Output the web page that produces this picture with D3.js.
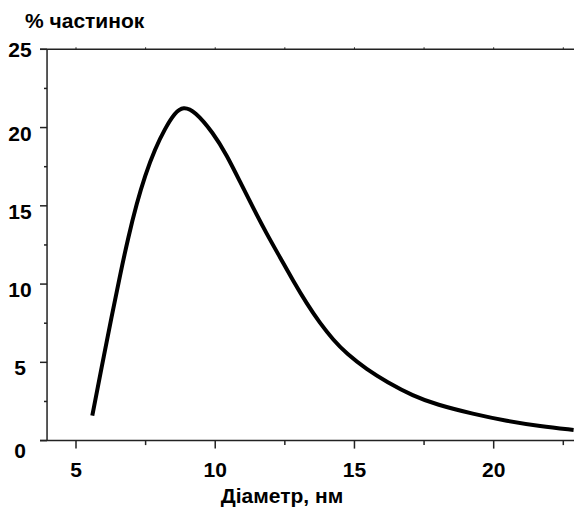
<!DOCTYPE html>
<html>
<head>
<meta charset="utf-8">
<script src="https://cdnjs.cloudflare.com/ajax/libs/d3/7.8.5/d3.min.js"></script>
<style>
  body { margin: 0; background: #fff; }
  text { font-family: "Liberation Sans", Arial, sans-serif; font-weight: bold; fill: #000; }
</style>
</head>
<body>
<div id="chart"></div>
<script>
// diameter (nm) and share of particles (%)
var diameters = [5.585, 5.92, 6.28, 6.58, 6.88, 7.18, 7.48, 7.84, 8.20, 8.55, 8.85, 9.27,
    9.93, 10.41, 10.89, 11.37, 11.85, 12.33, 12.80, 13.28, 13.76, 14.24, 14.72, 15.44,
    16.16, 17.11, 17.95, 19.27, 20.47, 21.67, 22.87]
var percents = [1.6, 4.68, 7.92, 10.56, 13.02, 15.15, 16.95, 18.65, 19.95, 20.95, 21.35, 21.05,
    19.65, 18.25, 16.54, 14.84, 13.2, 11.7, 10.2, 8.77, 7.50, 6.43, 5.55, 4.55,
    3.75, 2.85, 2.3, 1.7, 1.25, 0.92, 0.68]

var xTicks = [5, 10, 15, 20]
var xMinorTicks = [7.5, 12.5, 17.5, 22.5]
var yTicks = [0, 5, 10, 15, 20, 25]
var yMinorTicks = [2.5, 7.5, 12.5, 17.5, 22.5]

var yTitle = "% частинок"
var xTitle = "Діаметр, нм"

var width = 574, height = 510
var fontSize = "21px"

var svg = d3.select("#chart").append("svg")
    .attr("width", width).attr("height", height)

// scales: the plot is cut off at the right edge of the picture
var x = d3.scaleLinear().domain([5, 22.5]).range([76, 563.3])
var y = d3.scaleLinear().domain([0, 25]).range([440.6, 49.3])

var x0 = x(3.96), x1 = width
var axisColor = "#222"

// frame lines
svg.append("line").attr("x1", x0).attr("x2", x0).attr("y1", y(25)).attr("y2", y(0))
    .attr("stroke", axisColor).attr("stroke-width", 1.5)
svg.append("line").attr("x1", 40).attr("x2", x1).attr("y1", y(0)).attr("y2", y(0))
    .attr("stroke", axisColor).attr("stroke-width", 1.5)
svg.append("line").attr("x1", 40).attr("x2", x1).attr("y1", y(25)).attr("y2", y(25))
    .attr("stroke", axisColor).attr("stroke-width", 1.5)

// y ticks
svg.selectAll(".ytick").data(yTicks).enter().append("line")
    .attr("x1", 40).attr("x2", x0)
    .attr("y1", function(d) { return y(d) }).attr("y2", function(d) { return y(d) })
    .attr("stroke", axisColor).attr("stroke-width", 1.5)
svg.selectAll(".yminor").data(yMinorTicks).enter().append("line")
    .attr("x1", 44).attr("x2", x0)
    .attr("y1", function(d) { return y(d) }).attr("y2", function(d) { return y(d) })
    .attr("stroke", axisColor).attr("stroke-width", 1.5)

// x ticks (bottom, plus tiny marks on the top line)
svg.selectAll(".xtick").data(xTicks).enter().append("line")
    .attr("x1", function(d) { return x(d) }).attr("x2", function(d) { return x(d) })
    .attr("y1", y(0)).attr("y2", y(0) + 8)
    .attr("stroke", axisColor).attr("stroke-width", 1.5)
svg.selectAll(".xminor").data(xMinorTicks).enter().append("line")
    .attr("x1", function(d) { return x(d) }).attr("x2", function(d) { return x(d) })
    .attr("y1", y(0)).attr("y2", y(0) + 4.5)
    .attr("stroke", axisColor).attr("stroke-width", 1.5)
svg.selectAll(".xtop").data(xTicks.concat(xMinorTicks)).enter().append("line")
    .attr("x1", function(d) { return x(d) }).attr("x2", function(d) { return x(d) })
    .attr("y1", y(25)).attr("y2", y(25) - 2)
    .attr("stroke", axisColor).attr("stroke-width", 1)

// tick labels
svg.selectAll(".xlabel").data(xTicks).enter().append("text")
    .attr("x", function(d) { return x(d) }).attr("y", 477)
    .attr("text-anchor", "middle").style("font-size", fontSize)
    .text(function(d) { return d })

svg.selectAll(".ylabel").data(yTicks).enter().append("text")
    .attr("x", 20)
    .attr("y", function(d) {
        // the original labels sit a bit below their ticks, least at the top
        if(d == 25) return y(d) + 7.5
        if(d == 0) return y(d) + 17.5
        return y(d) + 13
    })
    .attr("text-anchor", "middle").style("font-size", fontSize)
    .text(function(d) { return d })

// titles
svg.append("text").attr("x", 25).attr("y", 28).style("font-size", fontSize).text(yTitle)
svg.append("text").attr("x", 282).attr("y", 503).attr("text-anchor", "middle")
    .style("font-size", fontSize).text(xTitle)

// the curve - basis spline smooths out the reading noise
var points = d3.zip(diameters, percents)
var line = d3.line()
    .x(function(d) { return x(d[0]) })
    .y(function(d) { return y(d[1]) })
    .curve(d3.curveBasis)

svg.append("path").datum(points)
    .attr("d", line)
    .attr("fill", "none").attr("stroke", "#000").attr("stroke-width", 4)
    .attr("stroke-linejoin", "round")
</script>
</body>
</html>
